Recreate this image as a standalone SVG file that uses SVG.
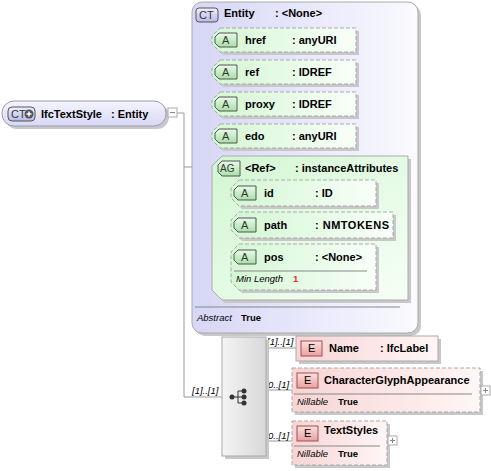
<svg xmlns="http://www.w3.org/2000/svg" width="491" height="471" viewBox="0 0 491 471">
<defs>
<linearGradient id="gLav" x1="0" y1="0" x2="1" y2="0"><stop offset="0" stop-color="#d6d6f6"/><stop offset="1" stop-color="#fafaff"/></linearGradient>
<linearGradient id="gRoot" x1="0" y1="0" x2="0" y2="1"><stop offset="0" stop-color="#f4f4ff"/><stop offset="1" stop-color="#d8d8f4"/></linearGradient>
<linearGradient id="gGreen" x1="0" y1="0" x2="1" y2="0"><stop offset="0" stop-color="#d4f6d4"/><stop offset="1" stop-color="#f8fff8"/></linearGradient>
<linearGradient id="gAG" x1="0" y1="0" x2="1" y2="1"><stop offset="0" stop-color="#d2f6d2"/><stop offset="1" stop-color="#f6fff6"/></linearGradient>
<linearGradient id="gPink" x1="0" y1="0" x2="1" y2="0"><stop offset="0" stop-color="#f8d4d4"/><stop offset="1" stop-color="#fff6f6"/></linearGradient>
<linearGradient id="gBadgeG" x1="0" y1="0" x2="0" y2="1"><stop offset="0" stop-color="#e8fae8"/><stop offset="1" stop-color="#a8e0a8"/></linearGradient>
<linearGradient id="gBadgeE" x1="0" y1="0" x2="0" y2="1"><stop offset="0" stop-color="#fce0e0"/><stop offset="1" stop-color="#eaa0a0"/></linearGradient>
<linearGradient id="gBadgeC" x1="0" y1="0" x2="0" y2="1"><stop offset="0" stop-color="#f0f0ff"/><stop offset="1" stop-color="#b8b8e8"/></linearGradient>
<linearGradient id="gSeq" x1="0" y1="0" x2="1" y2="0"><stop offset="0" stop-color="#f4f4f4"/><stop offset="1" stop-color="#d8d8d8"/></linearGradient>
</defs>
<style>
text{font-family:"Liberation Sans",Arial,sans-serif;font-size:11px;fill:#000}
.b{font-weight:bold}
.it{font-style:italic;font-size:9.5px}
.sm{font-size:9.5px;font-weight:bold}
.red{fill:#e03030}
.bd{fill:#333}
.ln{stroke:#999;stroke-width:1;fill:none}
.shadow{fill:#c8c8c8}
.attr{fill:url(#gGreen);stroke:#aaa;stroke-dasharray:4 2}
.badgeA{fill:url(#gBadgeG);stroke:#555}
.badgeE{fill:url(#gBadgeE);stroke:#a05050}
.el{fill:url(#gPink);stroke:#aaa}
.eld{fill:url(#gPink);stroke:#aaa;stroke-dasharray:4 2}
.sep{stroke:#888;stroke-width:1}
.plus{fill:#fff;stroke:#aaa}
</style>

<g id="connectors">
<path class="ln" d="M177 113 H184 V397 H222"/>
<path class="ln" d="M184 167 H195"/>
<path class="ln" d="M203 40 V228 M203 40 H212 M203 72 H212 M203 104 H212 M203 136 H212 M203 167 H212 M203 228 H212"/>
<path class="ln" d="M222 193 V265 M222 193 H231 M222 225 H231 M222 265 H231"/>
<path class="ln" d="M266 348 H296 M266 390 H292 M266 441 H292"/>
<text class="it" x="192" y="394">[1]..[1]</text>
<text class="it" x="267" y="345">[1]..[1]</text>
<text class="it" x="268" y="388">0..[1]</text>
<text class="it" x="268" y="439">0..[1]</text>
</g>

<g id="root">
<rect x="5" y="104" width="164" height="25" rx="12" class="shadow"/>
<rect x="2" y="101" width="164" height="25" rx="12" fill="url(#gRoot)" stroke="#9a9ab8"/>
<rect x="8" y="107" width="27" height="14" rx="4" fill="url(#gBadgeC)" stroke="#555"/>
<text class="bd" x="11" y="118">CT</text>
<circle cx="29" cy="114" r="4.5" fill="#555"/>
<path d="M26.5 114 H31.5 M29 111.5 V116.5" stroke="#fff" stroke-width="1.5"/>
<text class="b" x="41" y="118">IfcTextStyle</text>
<text class="b" x="111" y="118">: Entity</text>
<rect x="168" y="108" width="9" height="9" class="plus"/>
<path d="M170 112.5 H175" stroke="#888"/>
</g>

<g id="entity">
<rect x="195" y="5" width="226" height="331" rx="10" class="shadow"/>
<rect x="192" y="2" width="226" height="331" rx="10" fill="url(#gLav)" stroke="#aaa"/>
<rect x="196" y="8" width="22" height="14" rx="3" fill="url(#gBadgeC)" stroke="#555"/>
<text class="bd" x="199" y="19">CT</text>
<text class="b" x="224" y="17">Entity</text>
<text class="b" x="275" y="17">: &lt;None&gt;</text>
<line x1="195" y1="307" x2="400" y2="307" class="sep"/>
<text class="it" x="197" y="321">Abstract</text>
<text class="sm" x="241" y="321">True</text>
</g>

<g id="href">
<path class="shadow" d="M223 31 H359 V55 H223 L215 47 V39 Z"/>
<path class="attr" d="M220 28 H356 V52 H220 L212 44 V36 Z"/>
<path class="badgeA" d="M219 33 H237 V47 H219 L215 43 V37 Z"/>
<text class="bd" x="222" y="44">A</text>
<text class="b" x="245" y="44">href</text>
<text class="b" x="292" y="44">: anyURI</text>
</g>
<g id="ref">
<path class="shadow" d="M223 63 H359 V87 H223 L215 79 V71 Z"/>
<path class="attr" d="M220 60 H356 V84 H220 L212 76 V68 Z"/>
<path class="badgeA" d="M219 65 H237 V79 H219 L215 75 V69 Z"/>
<text class="bd" x="222" y="76">A</text>
<text class="b" x="245" y="76">ref</text>
<text class="b" x="292" y="76">: IDREF</text>
</g>
<g id="proxy">
<path class="shadow" d="M223 95 H359 V119 H223 L215 111 V103 Z"/>
<path class="attr" d="M220 92 H356 V116 H220 L212 108 V100 Z"/>
<path class="badgeA" d="M219 97 H237 V111 H219 L215 107 V101 Z"/>
<text class="bd" x="222" y="108">A</text>
<text class="b" x="245" y="108">proxy</text>
<text class="b" x="292" y="108">: IDREF</text>
</g>
<g id="edo">
<path class="shadow" d="M223 127 H359 V151 H223 L215 143 V135 Z"/>
<path class="attr" d="M220 124 H356 V148 H220 L212 140 V132 Z"/>
<path class="badgeA" d="M219 129 H237 V143 H219 L215 139 V133 Z"/>
<text class="bd" x="222" y="140">A</text>
<text class="b" x="245" y="140">edo</text>
<text class="b" x="292" y="140">: anyURI</text>
</g>

<g id="instanceAttributes">
<path class="shadow" d="M225 159 H411 V303 H225 L215 293 V169 Z"/>
<path d="M222 156 H408 V300 H222 L212 290 V166 Z" fill="url(#gAG)" stroke="#aaa"/>
<path d="M222 161 H240 V176 H222 L218 172 V165 Z" fill="url(#gBadgeG)" stroke="#555"/>
<text class="bd" x="220" y="172" font-size="10" style="font-size:10px">AG</text>
<text class="b" x="245" y="172">&lt;Ref&gt;</text>
<text class="b" x="295" y="172">: instanceAttributes</text>
</g>

<g id="id">
<path class="shadow" d="M242 183 H379 V209 H242 L234 201 V191 Z"/>
<path class="attr" d="M239 180 H376 V206 H239 L231 198 V188 Z"/>
<path class="badgeA" d="M238 186 H256 V200 H238 L234 196 V190 Z"/>
<text class="bd" x="241" y="197">A</text>
<text class="b" x="264" y="197">id</text>
<text class="b" x="315" y="197">: ID</text>
</g>
<g id="path">
<path class="shadow" d="M242 215 H396 V241 H242 L234 233 V223 Z"/>
<path class="attr" d="M239 212 H393 V238 H239 L231 230 V220 Z"/>
<path class="badgeA" d="M238 218 H256 V232 H238 L234 228 V222 Z"/>
<text class="bd" x="241" y="229">A</text>
<text class="b" x="264" y="229">path</text>
<text class="b" x="315" y="229" letter-spacing="0.5">: NMTOKENS</text>
</g>
<g id="pos">
<path class="shadow" d="M242 247 H379 V293 H242 L234 285 V255 Z"/>
<path class="attr" d="M239 244 H376 V290 H239 L231 282 V252 Z"/>
<path class="badgeA" d="M238 250 H256 V264 H238 L234 260 V254 Z"/>
<text class="bd" x="241" y="261">A</text>
<text class="b" x="264" y="261">pos</text>
<text class="b" x="315" y="261">: &lt;None&gt;</text>
<line x1="234" y1="271" x2="367" y2="271" class="sep"/>
<text class="it" x="236" y="282">Min Length</text>
<text class="sm red" x="293" y="282">1</text>
</g>

<g id="sequence">
<rect x="225" y="340" width="44" height="119" class="shadow"/>
<rect x="222" y="337" width="44" height="119" fill="url(#gSeq)" stroke="#aaa"/>
<path d="M232 397 H238 M238 391 V403 M238 391 H244 M238 397 H244 M238 403 H244" stroke="#333" fill="none"/>
<circle cx="232" cy="397" r="2.5" fill="#333"/>
<circle cx="244" cy="391" r="2.5" fill="#333"/>
<circle cx="244" cy="397" r="2.5" fill="#333"/>
<circle cx="244" cy="403" r="2.5" fill="#333"/>
</g>

<g id="Name">
<rect x="299" y="339" width="142" height="25" class="shadow"/>
<rect x="296" y="336" width="142" height="25" class="el"/>
<rect x="301" y="341" width="21" height="15" class="badgeE"/>
<text x="308" y="352">E</text>
<text class="b" x="329" y="352">Name</text>
<text class="b" x="380" y="352">: IfcLabel</text>
</g>

<g id="CharacterGlyphAppearance">
<rect x="295" y="371" width="188" height="44" class="shadow"/>
<rect x="292" y="368" width="188" height="44" class="eld"/>
<rect x="297" y="373" width="21" height="15" class="badgeE"/>
<text x="304" y="384">E</text>
<text class="b" x="324" y="384">CharacterGlyphAppearance</text>
<line x1="294" y1="394" x2="472" y2="394" class="sep"/>
<text class="it" x="297" y="405">Nillable</text>
<text class="sm" x="338" y="405">True</text>
<rect x="481" y="386" width="9" height="9" class="plus"/>
<path d="M483 390.5 H488 M485.5 388 V393" stroke="#888"/>
</g>

<g id="TextStyles">
<rect x="295" y="424" width="95" height="44" class="shadow"/>
<rect x="292" y="421" width="95" height="44" class="eld"/>
<rect x="297" y="426" width="21" height="15" class="badgeE"/>
<text x="304" y="437">E</text>
<text class="b" x="324" y="434">TextStyles</text>
<line x1="294" y1="446" x2="380" y2="446" class="sep"/>
<text class="it" x="297" y="457">Nillable</text>
<text class="sm" x="338" y="457">True</text>
<rect x="388" y="436" width="9" height="9" class="plus"/>
<path d="M390 440.5 H395 M392.5 438 V443" stroke="#888"/>
</g>
</svg>
